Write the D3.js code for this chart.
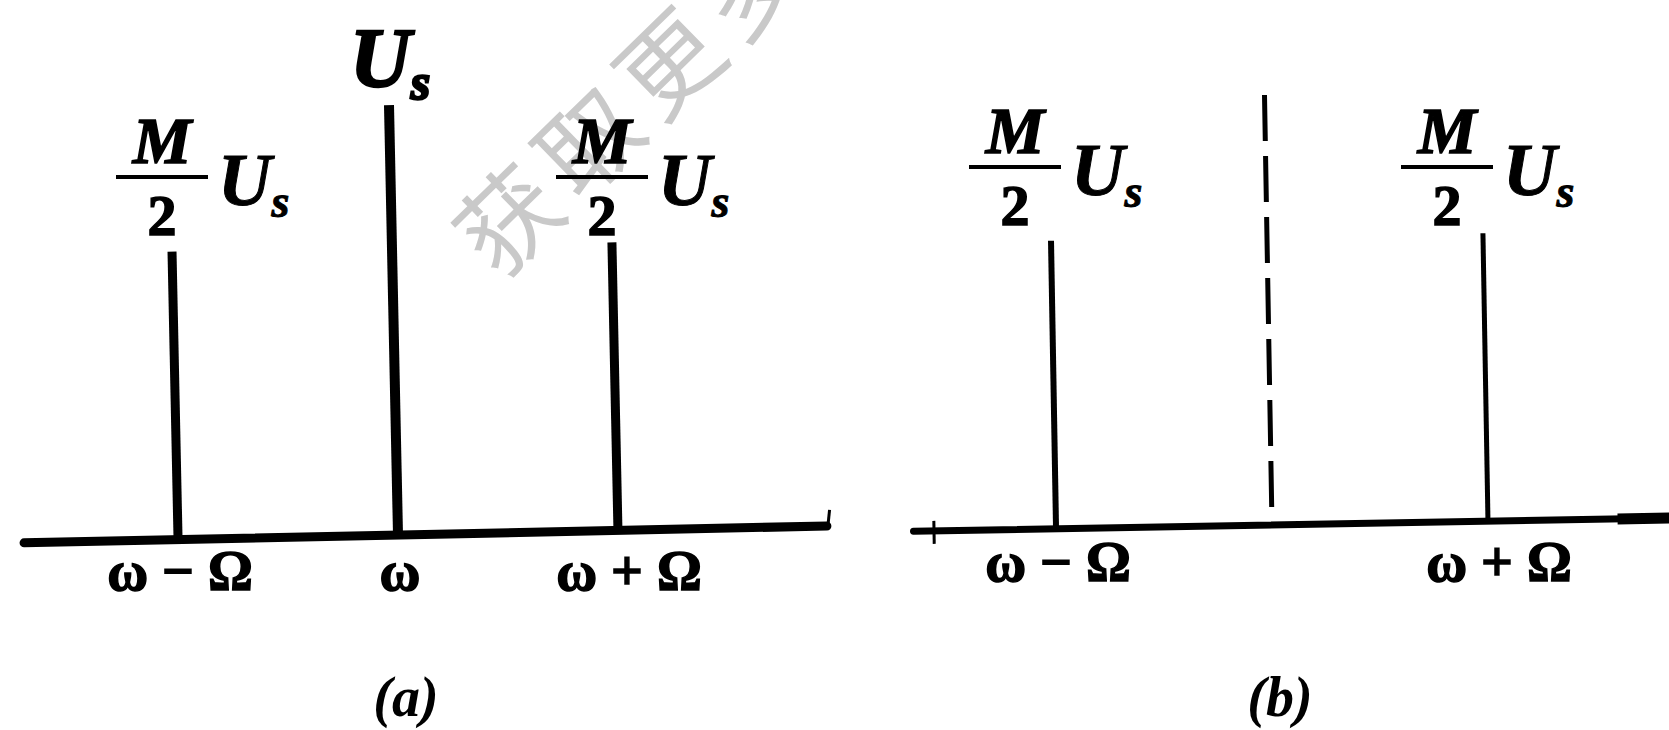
<!DOCTYPE html>
<html>
<head>
<meta charset="utf-8">
<script src="https://cdn.jsdelivr.net/npm/d3@7"></script>
<style>
  html, body { margin: 0; padding: 0; background: #fff; }
  svg { display: block; }
</style>
</head>
<body>
<svg id="fig" width="1669" height="730"></svg>
<script>
// Spectral lines, frequency offsets in units of Ω around the carrier ω
const freqOffsets = [-1, 0, 1];
const freqLabelsA = ["ω − Ω", "ω", "ω + Ω"];
const freqLabelsB = ["ω − Ω", "", "ω + Ω"];
// (a) ordinary AM: carrier plus two side frequencies of M/2·Us
const amAmplitudes = [0.67, 1, 0.67];
// (b) double sideband: carrier suppressed (shown dashed at its former height)
const dsbAmplitudes = [0.67, 0, 0.67];
const suppressedCarrier = 1;
const captions = ["(a)", "(b)"];
const watermark = "获取更多";

const W = 1669, H = 730;
const svg = d3.select("#fig");
svg.append("rect").attr("width", W).attr("height", H).attr("fill", "#fff");

const serif = "'Liberation Serif', 'DejaVu Serif', serif";

// faint diagonal watermark
svg.append("text")
  .attr("x", 629).attr("y", 94)
  .attr("transform", "rotate(-44.3,629,94)")
  .attr("text-anchor", "middle")
  .attr("dominant-baseline", "central")
  .style("font-family", "'Noto Sans CJK SC'")
  .style("font-size", "100px")
  .style("letter-spacing", "12px")
  .attr("fill", "#c9c9c9")
  .text(watermark);

// amplitude -> line length
const yLen = d3.scaleLinear().domain([0, 1]).range([0, 430]);

const panels = [
  { range: [178, 618], baseY: 535, tilt: -1.2, axis: [-1.7, 1.95], amps: amAmplitudes,
    labels: freqLabelsA, labelDx: -16, tickY: 590, stemW: [9, 10, 9], axisW: 9,
    caption: captions[0], carrierDashed: false },
  { range: [1056, 1488], baseY: 525, tilt: -1.0, axis: [-1.66, 1.9], amps: dsbAmplitudes,
    labels: freqLabelsB, labelDx: -41, tickY: 581, stemW: [6, 5, 5], axisW: 7,
    caption: captions[1], carrierDashed: true }
];

panels.forEach((p, pi) => {
  const x = d3.scaleLinear().domain([-1, 1]).range(p.range);
  const cx = x(0);
  const g = svg.append("g");
  const marks = g.append("g").attr("transform", `rotate(${p.tilt},${cx},${p.baseY})`);

  // frequency axis
  marks.append("line")
    .attr("x1", x(p.axis[0])).attr("x2", x(p.axis[1]))
    .attr("y1", p.baseY).attr("y2", p.baseY)
    .attr("stroke", "#000").attr("stroke-width", p.axisW).attr("stroke-linecap", "round");

  if (pi === 0) {
    // small hook at the right end of the axis
    marks.append("line")
      .attr("x1", x(p.axis[1]) + 1).attr("x2", x(p.axis[1]) + 3)
      .attr("y1", p.baseY).attr("y2", p.baseY - 16)
      .attr("stroke", "#000").attr("stroke-width", 3);
  } else {
    // tick near the left end of the axis, heavier stroke at the right edge
    marks.append("line")
      .attr("x1", x(-1.565)).attr("x2", x(-1.565))
      .attr("y1", p.baseY - 10).attr("y2", p.baseY + 13)
      .attr("stroke", "#000").attr("stroke-width", 3);
    marks.append("line")
      .attr("x1", x(1.6)).attr("x2", x(p.axis[1]))
      .attr("y1", p.baseY).attr("y2", p.baseY)
      .attr("stroke", "#000").attr("stroke-width", 11);
  }

  // spectral lines
  freqOffsets.forEach((f, i) => {
    const a = p.amps[i];
    if (a > 0) {
      marks.append("line")
        .attr("x1", x(f)).attr("x2", x(f))
        .attr("y1", p.baseY).attr("y2", p.baseY - yLen(a))
        .attr("stroke", "#000").attr("stroke-width", p.stemW[i]);
    } else if (p.carrierDashed) {
      marks.append("line")
        .attr("x1", x(f)).attr("x2", x(f))
        .attr("y1", p.baseY - yLen(suppressedCarrier)).attr("y2", p.baseY)
        .attr("stroke", "#000").attr("stroke-width", p.stemW[i])
        .attr("stroke-dasharray", "46,15");
    }
  });

  // amplitude labels above each line
  freqOffsets.forEach((f, i) => {
    const a = p.amps[i];
    const sx = x(f);
    if (f === 0) {
      if (a > 0) {
        const top = p.baseY - yLen(a);
        const t = g.append("text")
          .attr("x", sx - 48).attr("y", top - 18)
          .style("font-family", serif).style("font-weight", "bold").style("font-style", "italic")
          .style("font-size", "84px")
          .attr("stroke", "#000").attr("stroke-width", 2.5)
          .text("U");
        t.append("tspan").attr("dy", 12).style("font-size", "50px").text("s");
      }
      return;
    }
    const top = p.baseY - yLen(a);
    const c = sx + p.labelDx;
    g.append("text")
      .attr("x", c).attr("y", top - 84)
      .attr("text-anchor", "middle")
      .style("font-family", serif).style("font-weight", "bold").style("font-style", "italic")
      .style("font-size", "66px")
      .attr("stroke", "#000").attr("stroke-width", 1.5)
      .text("M");
    g.append("line")
      .attr("x1", c - 46).attr("x2", c + 46)
      .attr("y1", top - 70).attr("y2", top - 70)
      .attr("stroke", "#000").attr("stroke-width", 4);
    g.append("text")
      .attr("x", c).attr("y", top - 12)
      .attr("text-anchor", "middle")
      .style("font-family", serif).style("font-weight", "bold")
      .style("font-size", "58px")
      .attr("stroke", "#000").attr("stroke-width", 1.5)
      .text("2");
    const u = g.append("text")
      .attr("x", c + 56).attr("y", top - 42)
      .style("font-family", serif).style("font-weight", "bold").style("font-style", "italic")
      .style("font-size", "74px")
      .attr("stroke", "#000").attr("stroke-width", 1)
      .text("U");
    u.append("tspan").attr("dy", 12).style("font-size", "46px").text("s");
  });

  // frequency tick labels
  freqOffsets.forEach((f, i) => {
    if (!p.labels[i]) return;
    g.append("text")
      .attr("x", x(f) + (f > 0 ? 11 : 2)).attr("y", p.tickY)
      .attr("text-anchor", "middle")
      .style("font-family", serif).style("font-weight", "bold")
      .style("font-size", "56px")
      .attr("stroke", "#000").attr("stroke-width", 1.5)
      .attr("xml:space", "preserve")
      .text(p.labels[i]);
  });

  // panel caption
  g.append("text")
    .attr("x", cx + 8).attr("y", 716)
    .attr("text-anchor", "middle")
    .style("font-family", serif).style("font-style", "italic").style("font-weight", "bold")
    .style("font-size", "56px")
    .text(p.caption);
});
</script>
</body>
</html>
